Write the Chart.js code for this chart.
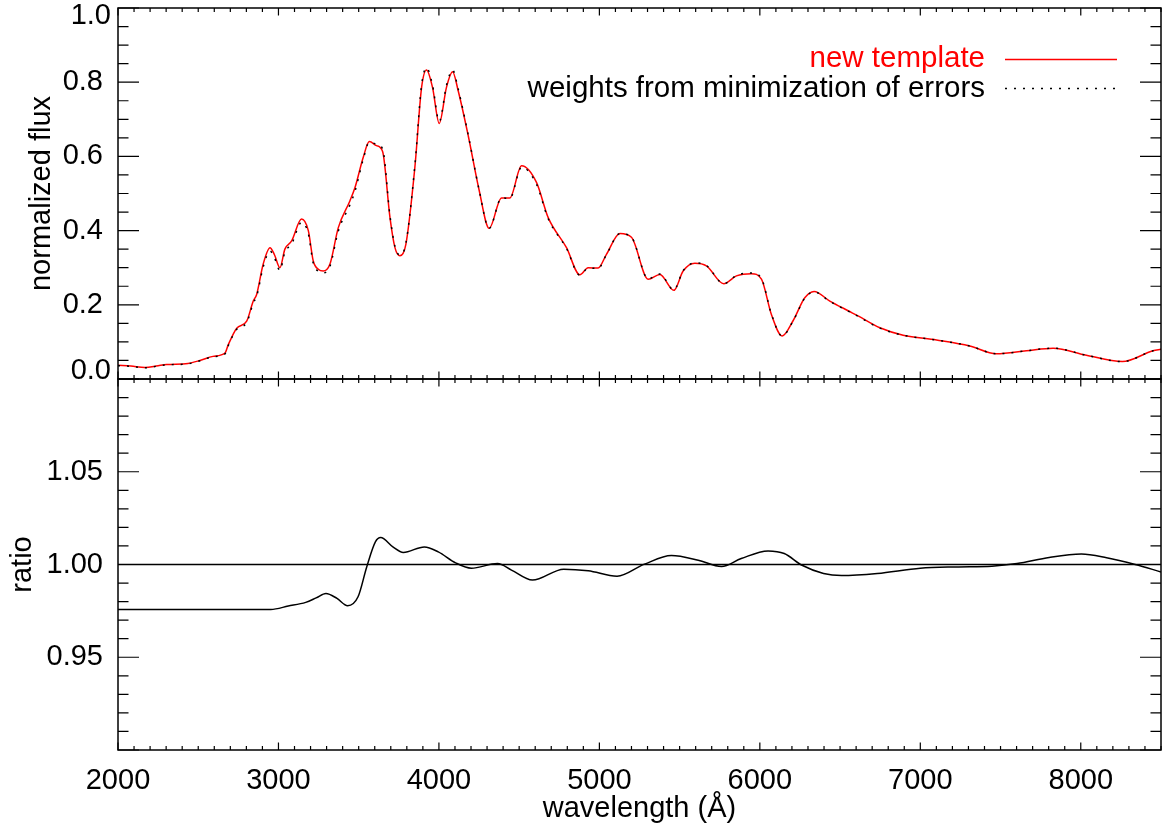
<!DOCTYPE html>
<html>
<head>
<meta charset="utf-8">
<script src="https://cdn.jsdelivr.net/npm/chart.js@4.4.1/dist/chart.umd.min.js"></script>
<style>
  html, body { margin: 0; padding: 0; background: #fff; }
  #wrap { width: 1163px; height: 830px; }
</style>
</head>
<body>
<div id="wrap"><canvas id="myChart" width="1163" height="830"></canvas></div>
<script>
// wavelength grid (Å) for the flux curves
const wavelength = [2000, 2080, 2168, 2250, 2303, 2436, 2511, 2592, 2667, 2687, 2740, 2802, 2843, 2864, 2905, 2947, 2975, 3009, 3040, 3082,
  3144, 3186, 3217, 3250, 3279, 3321, 3373, 3445, 3477, 3528, 3566, 3611, 3649, 3695, 3726, 3757, 3794, 3850, 3892, 3923,
  3960, 4002, 4047, 4085, 4120, 4183, 4250, 4313, 4390, 4442, 4515, 4608, 4681, 4795, 4878, 4930, 4992, 5044, 5128, 5200,
  5304, 5377, 5464, 5522, 5595, 5667, 5775, 5854, 5948, 6010, 6072, 6139, 6207, 6280, 6338, 6436, 6550, 6612, 6748, 6893,
  7101, 7308, 7474, 7661, 7827, 8035, 8259, 8450, 8500];

// new template (red)
const fluxTemplate = [0.037, 0.035, 0.031, 0.036, 0.039, 0.042, 0.050, 0.061, 0.070, 0.092, 0.137, 0.156, 0.210, 0.228, 0.310, 0.354, 0.335, 0.300, 0.350, 0.372,
  0.431, 0.400, 0.318, 0.295, 0.291, 0.310, 0.408, 0.480, 0.516, 0.597, 0.640, 0.629, 0.613, 0.435, 0.354, 0.332, 0.363, 0.570, 0.786, 0.833,
  0.786, 0.689, 0.786, 0.828, 0.777, 0.655, 0.510, 0.406, 0.488, 0.488, 0.575, 0.530, 0.435, 0.354, 0.281, 0.300, 0.299, 0.336, 0.392, 0.382,
  0.269, 0.282, 0.239, 0.291, 0.312, 0.305, 0.257, 0.278, 0.284, 0.269, 0.174, 0.116, 0.157, 0.219, 0.236, 0.210, 0.184, 0.170, 0.138, 0.118,
  0.105, 0.089, 0.068, 0.076, 0.083, 0.064, 0.047, 0.076, 0.080];

// weights from minimization of errors (black dotted)
const fluxWeights = [0.036, 0.034, 0.030, 0.035, 0.038, 0.041, 0.049, 0.060, 0.068, 0.090, 0.134, 0.152, 0.205, 0.223, 0.302, 0.345, 0.327, 0.293, 0.342, 0.364,
  0.422, 0.392, 0.312, 0.290, 0.286, 0.304, 0.399, 0.469, 0.506, 0.592, 0.638, 0.633, 0.620, 0.440, 0.357, 0.334, 0.366, 0.575, 0.792, 0.839,
  0.792, 0.694, 0.791, 0.833, 0.782, 0.657, 0.511, 0.406, 0.488, 0.487, 0.571, 0.525, 0.432, 0.352, 0.280, 0.299, 0.298, 0.335, 0.392, 0.382,
  0.270, 0.283, 0.240, 0.292, 0.313, 0.306, 0.257, 0.279, 0.286, 0.271, 0.175, 0.116, 0.156, 0.218, 0.235, 0.209, 0.183, 0.169, 0.137, 0.118,
  0.105, 0.089, 0.068, 0.076, 0.083, 0.064, 0.047, 0.076, 0.080];

// ratio panel
const ratioWave = [2000, 2539, 2952, 3061, 3170, 3235, 3296, 3365, 3431, 3496, 3550, 3604, 3637, 3713, 3778, 3909, 3996, 4104, 4202, 4365,
  4452, 4583, 4778, 4930, 5110, 5281, 5449, 5616, 5761, 5884, 6051, 6152, 6263, 6397, 6509, 6732, 7000, 7223, 7446, 7603,
  7803, 8004, 8161, 8339, 8500];
const ratioValues = [0.9758, 0.9758, 0.9758, 0.9776, 0.9796, 0.9820, 0.9844, 0.9817, 0.9778, 0.9826, 0.9987, 1.0122, 1.0145, 1.0095, 1.0065, 1.0095, 1.0068, 1.0009, 0.9980, 1.0005,
  0.9970, 0.9916, 0.9975, 0.9966, 0.9937, 1.0002, 1.0048, 1.0023, 0.9989, 1.0032, 1.0073, 1.0059, 0.9996, 0.9952, 0.9941, 0.9952, 0.9980, 0.9987, 0.9991, 1.0005,
  1.0038, 1.0056, 1.0036, 1.0000, 0.9960];
const unityWave = [2000, 8500];
const unityValues = [1, 1];

// tick labels
const xTickValues = [2000, 3000, 4000, 5000, 6000, 7000, 8000];
const fluxTickValues = [0, 0.2, 0.4, 0.6, 0.8, 1.0];
const ratioTickValues = [0.95, 1.00, 1.05];

const FONT = '"Liberation Sans", Arial, Helvetica, sans-serif';
Chart.defaults.font.family = FONT;
Chart.defaults.font.size = 29;
Chart.defaults.color = '#000';

const pts = (xs, ys) => xs.map((x, i) => ({ x: x, y: ys[i] }));
const setTicks = vals => s => { s.ticks = vals.map(v => ({ value: v })); };

// IDL-style frame with inward ticks on all four sides of each panel
const idlAxes = {
  id: 'idlAxes',
  afterDatasetsDraw(chart) {
    const ctx = chart.ctx, xs = chart.scales.x, area = chart.chartArea;
    ctx.save();
    ctx.strokeStyle = '#000';
    [['y', 0.05, 4], ['y2', 0.01, 5]].forEach(([id, minor, every]) => {
      const ys = chart.scales[id];
      const top = ys.top, bot = ys.bottom;
      ctx.lineWidth = 1.5;
      ctx.strokeRect(area.left, top, area.right - area.left, bot - top);
      ctx.lineWidth = 1.2;
      ctx.beginPath();
      for (let i = 0; i <= 65; i++) {
        const px = xs.getPixelForValue(2000 + i * 100);
        const len = i % 10 === 0 ? 7.5 : 4;
        ctx.moveTo(px, top); ctx.lineTo(px, top + len);
        ctx.moveTo(px, bot); ctx.lineTo(px, bot - len);
      }
      const n = Math.round((ys.max - ys.min) / minor);
      for (let i = 0; i <= n; i++) {
        const py = ys.getPixelForValue(ys.min + i * minor);
        const len = i % every === 0 ? 21 : 10.5;
        ctx.moveTo(area.left, py); ctx.lineTo(area.left + len, py);
        ctx.moveTo(area.right, py); ctx.lineTo(area.right - len, py);
      }
      ctx.stroke();
    });

    // the two end labels of the flux axis sit just inside the panel, as in IDL
    const fy = chart.scales.y;
    ctx.font = '29px ' + FONT;
    ctx.fillStyle = '#000';
    ctx.textAlign = 'right';
    ctx.textBaseline = 'middle';
    const lx = fy.right - fy.options.ticks.padding;
    ctx.fillText(fy.max.toFixed(1), lx, fy.getPixelForValue(fy.max) + 8);
    ctx.fillText(fy.min.toFixed(1), lx, fy.getPixelForValue(fy.min) - 8);
    ctx.restore();
  }
};

// legend: text right aligned, line sample after it
const sideLegend = {
  id: 'sideLegend',
  afterDraw(chart) {
    const ctx = chart.ctx;
    const rows = [
      { ds: chart.data.datasets[1], base: 67, line: 59.5 },
      { ds: chart.data.datasets[0], base: 96.5, line: 88.5 }
    ];
    ctx.save();
    ctx.font = '29.5px ' + FONT;
    ctx.textAlign = 'right';
    ctx.textBaseline = 'alphabetic';
    rows.forEach(r => {
      ctx.fillStyle = r.ds.legendText;
      ctx.fillText(r.ds.label, 985, r.base);
      ctx.strokeStyle = r.ds.borderColor;
      ctx.lineWidth = r.ds.borderWidth;
      ctx.setLineDash(r.ds.borderDash || []);
      ctx.beginPath();
      ctx.moveTo(1005, r.line);
      ctx.lineTo(1117, r.line);
      ctx.stroke();
    });
    ctx.restore();
  }
};

const fixSize = (w, h) => s => {
  if (w !== null) s.width = w;
  if (h !== null) s.height = h;
  s.paddingTop = 0; s.paddingBottom = 0; s.paddingLeft = 0; s.paddingRight = 0;
};

new Chart(document.getElementById('myChart'), {
  type: 'line',
  data: {
    datasets: [
      {
        label: 'weights from minimization of errors',
        data: pts(wavelength, fluxWeights),
        yAxisID: 'y',
        borderColor: '#000',
        legendText: '#000',
        borderWidth: 1.5,
        borderDash: [2, 7],
        pointRadius: 0,
        cubicInterpolationMode: 'monotone',
        order: 0
      },
      {
        label: 'new template',
        data: pts(wavelength, fluxTemplate),
        yAxisID: 'y',
        borderColor: '#ff0000',
        legendText: '#ff0000',
        borderWidth: 1.5,
        pointRadius: 0,
        cubicInterpolationMode: 'monotone',
        order: 1
      },
      {
        label: 'ratio',
        data: pts(ratioWave, ratioValues),
        yAxisID: 'y2',
        borderColor: '#000',
        borderWidth: 1.5,
        pointRadius: 0,
        cubicInterpolationMode: 'monotone',
        order: 2
      },
      {
        label: 'unity',
        data: pts(unityWave, unityValues),
        yAxisID: 'y2',
        borderColor: '#000',
        borderWidth: 1.5,
        pointRadius: 0,
        order: 3
      }
    ]
  },
  options: {
    responsive: false,
    animation: false,
    layout: { padding: { top: 8, right: 2, left: 0, bottom: 0 } },
    plugins: { legend: { display: false }, tooltip: { enabled: false } },
    scales: {
      x: {
        type: 'linear',
        position: 'bottom',
        min: 2000,
        max: 8500,
        grid: { display: false },
        border: { display: false },
        ticks: { autoSkip: false, padding: 6, maxRotation: 0, callback: v => String(v) },
        afterBuildTicks: setTicks(xTickValues),
        title: { display: true, text: 'wavelength (Å)', padding: { top: 0, bottom: 4 } },
        afterFit: fixSize(null, 80)
      },
      y2: {
        type: 'linear',
        position: 'left',
        stack: 'panels',
        stackWeight: 1,
        min: 0.9,
        max: 1.1,
        grid: { display: false },
        border: { display: false },
        ticks: { autoSkip: false, padding: 7, callback: v => v.toFixed(2) },
        afterBuildTicks: setTicks(ratioTickValues),
        title: { display: true, text: 'ratio', padding: { top: 6, bottom: 0 } },
        afterFit: fixSize(118, null)
      },
      y: {
        type: 'linear',
        position: 'left',
        stack: 'panels',
        stackWeight: 1,
        min: 0,
        max: 1,
        grid: { display: false },
        border: { display: false },
        ticks: {
          autoSkip: false, padding: 7,
          callback: v => (v > 0 && v < 1) ? v.toFixed(1) : ''
        },
        afterBuildTicks: setTicks(fluxTickValues),
        title: { display: true, text: 'normalized flux', padding: { top: 25, bottom: 0 } },
        afterFit: fixSize(118, null)
      }
    }
  },
  plugins: [idlAxes, sideLegend]
});
</script>
</body>
</html>
